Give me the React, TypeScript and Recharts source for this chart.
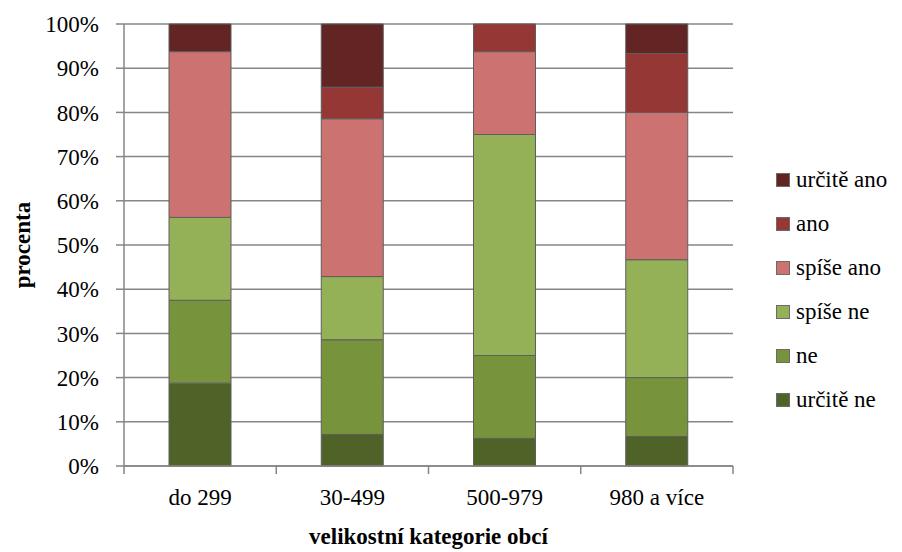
import { BarChart, Bar, XAxis, YAxis, CartesianGrid, Legend } from "recharts"

const categories = ["do 299", "30-499", "500-979", "980 a více"]

// podíly odpovědí v % (zdola nahoru)
const urciteNe = [18.75, 7.14, 6.25, 6.67]
const ne = [18.75, 21.43, 18.75, 13.33]
const spiseNe = [18.75, 14.29, 50, 26.67]
const spiseAno = [37.5, 35.71, 18.75, 33.33]
const ano = [0, 7.14, 6.25, 13.33]
const urciteAno = [6.25, 14.29, 0, 6.67]

const yTicks = [0, 10, 20, 30, 40, 50, 60, 70, 80, 90, 100]

const series = [
  { key: "urciteNe", name: "určitě ne", color: "#4F6228", values: urciteNe },
  { key: "ne", name: "ne", color: "#77933C", values: ne },
  { key: "spiseNe", name: "spíše ne", color: "#95B157", values: spiseNe },
  { key: "spiseAno", name: "spíše ano", color: "#CC7371", values: spiseAno },
  { key: "ano", name: "ano", color: "#953735", values: ano },
  { key: "urciteAno", name: "určitě ano", color: "#632523", values: urciteAno },
]

const data = categories.map((name, i) => {
  const row: Record<string, string | number> = { name }
  series.forEach((s) => {
    row[s.key] = s.values[i]
  })
  return row
})

const FONT = "Liberation Serif, DejaVu Serif, serif"
const AXIS = "#868686"
const FS = 23

function LegendContent() {
  const items = [...series].reverse()
  return (
    <div style={{ fontFamily: FONT, fontSize: FS, color: "#000" }}>
      {items.map((s) => (
        <div key={s.key} style={{ display: "flex", alignItems: "center", height: 44 }}>
          <span
            style={{
              display: "inline-block",
              width: 12,
              height: 12,
              background: s.color,
              border: "1px solid #6b6b6b",
              marginRight: 6,
            }}
          />
          <span>{s.name}</span>
        </div>
      ))}
    </div>
  )
}

function YTitle(props: any) {
  const vb = props.viewBox
  const cx = vb.x + 22
  const cy = vb.y + vb.height / 2
  return (
    <text
      x={cx}
      y={cy}
      transform={`rotate(-90, ${cx}, ${cy})`}
      textAnchor="middle"
      dominantBaseline="central"
      style={{ fontFamily: FONT, fontSize: FS, fontWeight: "bold" }}
      fill="#000"
    >
      procenta
    </text>
  )
}

// popisek kategorie + značky na hranicích kategorií (jako v Excelu)
function CatTick(props: any) {
  const { x, y, payload, index, visibleTicksCount } = props
  const half = payload.offset || 0
  const last = index === visibleTicksCount - 1
  return (
    <g>
      <line x1={x - half} x2={x - half} y1={y} y2={y + 8} stroke={AXIS} strokeWidth={1.5} />
      {last && <line x1={x + half} x2={x + half} y1={y} y2={y + 8} stroke={AXIS} strokeWidth={1.5} />}
      <text
        x={x}
        y={y + 23}
        textAnchor="middle"
        dominantBaseline="hanging"
        style={{ fontFamily: FONT, fontSize: FS }}
        fill="#000"
      >
        {payload.value}
      </text>
    </g>
  )
}

export default function App() {
  return (
    <div style={{ position: "absolute", left: 0, top: 0, background: "#fff", fontFamily: FONT }}>
      <BarChart
        width={902}
        height={552}
        data={data}
        margin={{ top: 24, right: 43, left: 0, bottom: 0 }}
      >
        <CartesianGrid vertical={false} stroke={AXIS} strokeWidth={1.5} />
        <XAxis
          dataKey="name"
          height={86}
          tickLine={false}
          tickSize={0}
          tickMargin={0}
          interval={0}
          axisLine={{ stroke: AXIS, strokeWidth: 1.5 }}
          tick={<CatTick />}
          label={{
            value: "velikostní kategorie obcí",
            position: "insideBottom",
            offset: 8,
            style: { fontFamily: FONT, fontSize: FS, fontWeight: "bold", fill: "#000" },
          }}
        />
        <YAxis
          type="number"
          domain={[0, 100]}
          ticks={yTicks}
          width={124}
          tickSize={8}
          tickMargin={17}
          tickFormatter={(v) => `${v}%`}
          axisLine={{ stroke: AXIS, strokeWidth: 1.5 }}
          tickLine={{ stroke: AXIS, strokeWidth: 1.5 }}
          tick={{ fontSize: FS, fill: "#000", style: { fontFamily: FONT } }}
          label={<YTitle />}
        />
        <Legend
          layout="vertical"
          verticalAlign="top"
          align="right"
          content={<LegendContent />}
          wrapperStyle={{ left: 776, top: 158, width: 126 }}
        />
        {series.map((s) => (
          <Bar
            key={s.key}
            dataKey={s.key}
            name={s.name}
            stackId="a"
            fill={s.color}
            stroke="#5e5e5e"
            strokeWidth={1}
            barSize={62}
            isAnimationActive={false}
          />
        ))}
      </BarChart>
    </div>
  )
}
